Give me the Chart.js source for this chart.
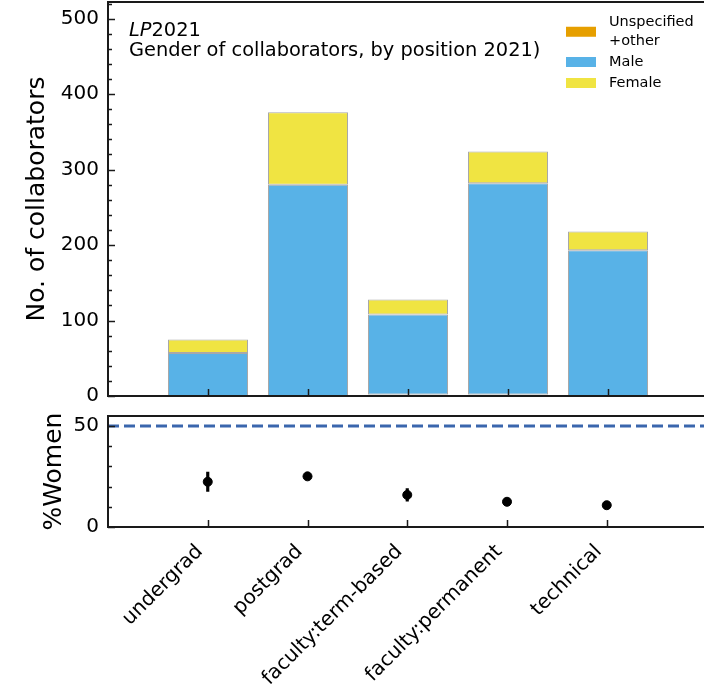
<!DOCTYPE html>
<html>
<head>
<meta charset="utf-8">
<script src="https://cdn.jsdelivr.net/npm/chart.js@4.4.1/dist/chart.umd.min.js"></script>
<style>
  html, body { margin: 0; padding: 0; background: #fff; }
  body { width: 704px; height: 691px; overflow: hidden; position: relative; }
  canvas { position: absolute; left: 0; }
  #counts { top: 0; }
  #women  { top: 409px; }
</style>
</head>
<body>
<canvas id="counts" width="712" height="409"></canvas>
<canvas id="women" width="712" height="282"></canvas>
<script>
'use strict';

// ── Data ────────────────────────────────────────────────────────────────────

const positions   = ['undergrad', 'postgrad', 'faculty:term-based', 'faculty:permanent', 'technical'];
const unspecified = [0, 0, 2, 2, 0];
const male        = [57, 280, 106, 280, 193];
const female      = [18, 96, 20, 42, 25];

const pctWomen    = [22.4, 25.1, 15.9, 12.5, 10.8];   // % women per position
const pctErr      = [4.8, 1.0, 3.1, 0.8, 1.0];        // ± error
const parityPct   = 50;

const countTickLabels = [0, 100, 200, 300, 400, 500];
const pctTickLabels   = [0, 50];

const titleItalic = 'LP';
const titleYear   = '2021';
const subtitle    = 'Gender of collaborators, by position 2021)';

// ── Helpers ──────────────────────────────────────────────────────────────────

// one empty slot either side so the frame runs a full category past each end
const labels = ['', ...positions, ''];
const padded = arr => [null, ...arr, null];

Chart.defaults.font.family = '"DejaVu Sans", sans-serif';
Chart.defaults.color = '#000';

const INK = '#1a1a1a';

// matplotlib-style box frame + inward ticks
const frameAndTicks = {
  id: 'frameAndTicks',
  afterDraw(chart, args, opts) {
    const { ctx, chartArea: a, scales } = chart;
    ctx.save();
    ctx.strokeStyle = INK;
    ctx.lineWidth = 1.5;
    scales.y.ticks.forEach(t => {
      if (t.value % opts.minorStep !== 0) return;
      const len = t.value % opts.majorStep === 0 ? 7 : 4;
      const py = Math.round(scales.y.getPixelForValue(t.value)) + 0.5;
      ctx.beginPath();
      ctx.moveTo(a.left, py);
      ctx.lineTo(a.left + len, py);
      ctx.stroke();
    });
    positions.forEach((_, i) => {
      const px = Math.round(scales.x.getPixelForValue(i + 1)) + 0.5;
      ctx.beginPath();
      ctx.moveTo(px, a.bottom);
      ctx.lineTo(px, a.bottom - 7);
      ctx.stroke();
    });
    ctx.lineWidth = 2;
    ctx.strokeRect(a.left, a.top, a.right - a.left, a.bottom - a.top);
    ctx.restore();
  },
};

// in-axes title text and legend of the counts panel
const notes = {
  id: 'notes',
  afterDraw(chart) {
    const { ctx, chartArea: a } = chart;
    ctx.save();
    ctx.fillStyle = '#000';
    ctx.textBaseline = 'alphabetic';
    ctx.textAlign = 'left';
    ctx.font = 'italic 19.4px "DejaVu Sans"';
    ctx.fillText(titleItalic, a.left + 21, a.top + 34);
    const w = ctx.measureText(titleItalic).width;
    ctx.font = '19.4px "DejaVu Sans"';
    ctx.fillText(titleYear, a.left + 21 + w, a.top + 34);
    ctx.fillText(subtitle, a.left + 21, a.top + 54);

    // legend, top right
    const lineH = 18.5;
    const boxX = a.left + 458, textX = a.left + 501;
    let y = a.top + 20.5;
    ctx.font = '14.5px "DejaVu Sans"';
    ctx.textBaseline = 'middle';
    chart.data.datasets.forEach(ds => {
      const lines = ds.label.split('\n');
      const block = lines.length * lineH;
      const cy = y + (block - lineH) / 2;
      ctx.fillStyle = ds.backgroundColor;
      ctx.fillRect(boxX, cy - 5, 30, 10);
      ctx.fillStyle = '#000';
      lines.forEach((ln, k) => ctx.fillText(ln, textX, y + k * lineH));
      y += block + 2.5;
    });
    ctx.restore();
  },
};

// ── Counts panel ─────────────────────────────────────────────────────────────

const barStyle = {
  borderColor: '#a8a8a8',
  borderWidth: 1,
  borderSkipped: false,
  barPercentage: 0.8,
  categoryPercentage: 1,
};

new Chart(document.getElementById('counts'), {
  type: 'bar',
  data: {
    labels,
    datasets: [
      { label: 'Unspecified\n+other', data: padded(unspecified), backgroundColor: '#E69F00', ...barStyle },
      { label: 'Male',               data: padded(male),        backgroundColor: '#58B2E7', ...barStyle },
      { label: 'Female',             data: padded(female),      backgroundColor: '#F0E442', ...barStyle },
    ],
  },
  options: {
    responsive: false,
    animation: false,
    layout: { padding: { top: 2, right: 4, bottom: 13, left: 0 } },
    plugins: {
      legend: { display: false },
      tooltip: { enabled: false },
      frameAndTicks: { minorStep: 20, majorStep: 100 },
    },
    scales: {
      x: { type: 'category', display: false, offset: false, stacked: true, grid: { display: false } },
      y: {
        stacked: true,
        min: 0,
        max: 522,
        afterFit: s => { s.width = 108; s.paddingTop = 0; s.paddingBottom = 0; },
        grid: { display: false, drawTicks: false },
        border: { display: false },
        ticks: {
          stepSize: 20,
          includeBounds: false,
          autoSkip: false,
          padding: 9,
          font: { size: 20 },
          callback: v => (countTickLabels.includes(v) ? String(v) : ''),
        },
        title: {
          display: true,
          text: 'No. of collaborators',
          font: { size: 25 },
          padding: { top: 22.5, bottom: 0 },
        },
      },
    },
  },
  plugins: [frameAndTicks, notes],
});

// ── %Women panel ─────────────────────────────────────────────────────────────

new Chart(document.getElementById('women'), {
  type: 'bar',
  data: {
    labels,
    datasets: [
      {
        type: 'line',
        label: 'parity',
        data: labels.map(() => parityPct),
        borderColor: '#3a66ad',
        borderWidth: 3,
        borderDash: [11, 5],
        pointRadius: 0,
        fill: false,
        order: 3,
      },
      {
        type: 'bar',
        label: 'error',
        data: padded(pctWomen.map((v, i) => [v - pctErr[i], v + pctErr[i]])),
        backgroundColor: '#000',
        barThickness: 2.5,
        order: 2,
      },
      {
        type: 'line',
        label: '%Women',
        data: padded(pctWomen),
        showLine: false,
        pointRadius: 4.5,
        pointBackgroundColor: '#000',
        pointBorderColor: '#000',
        order: 1,
      },
    ],
  },
  options: {
    responsive: false,
    animation: false,
    layout: { padding: { top: 7, right: 4, bottom: 0, left: 0 } },
    plugins: {
      legend: { display: false },
      tooltip: { enabled: false },
      frameAndTicks: { minorStep: 10, majorStep: 50 },
    },
    scales: {
      x: {
        type: 'category',
        offset: false,
        afterFit: s => { s.height = 164; s.paddingLeft = 0; s.paddingRight = 0; },
        grid: { display: false, drawTicks: false },
        border: { display: false },
        ticks: {
          autoSkip: false,
          maxRotation: 45,
          minRotation: 45,
          padding: 13,
          labelOffset: -8,
          font: { size: 20 },
        },
      },
      y: {
        min: 0,
        max: 55,
        afterFit: s => { s.width = 108; s.paddingTop = 0; s.paddingBottom = 0; },
        grid: { display: false, drawTicks: false },
        border: { display: false },
        ticks: {
          stepSize: 10,
          includeBounds: false,
          autoSkip: false,
          padding: 9,
          font: { size: 20 },
          callback: v => (pctTickLabels.includes(v) ? String(v) : ''),
        },
        title: {
          display: true,
          text: '%Women',
          font: { size: 25 },
          padding: { top: 39, bottom: 0 },
        },
      },
    },
  },
  plugins: [frameAndTicks],
});
</script>
</body>
</html>
